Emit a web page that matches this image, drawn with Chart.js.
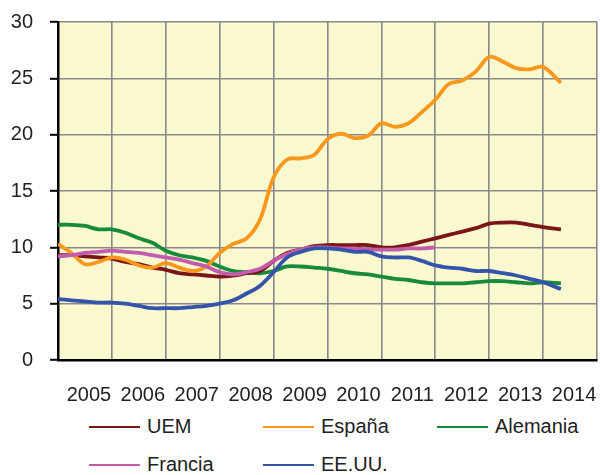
<!DOCTYPE html>
<html>
<head>
<meta charset="utf-8">
<script src="https://cdn.jsdelivr.net/npm/chart.js@4"></script>
<style>
  body { margin: 0; background: #fff; font-family: "Liberation Sans", Arial, sans-serif; }
  #wrap { position: relative; width: 600px; height: 475px; overflow: hidden; }
  #box { position: absolute; left: 0; top: 0; width: 600px; height: 410px; }
  .leg { position: absolute; display: flex; align-items: center; font-size: 20px; color: #222; white-space: nowrap; }
  .leg span.ln { display: inline-block; width: 51px; height: 2px; margin-right: 7px; }
</style>
</head>
<body>
<div id="wrap">
  <div id="box"><canvas id="paro"></canvas></div>
  <div id="legend"></div>
</div>
<script>
// trimestres (año decimal)
const periodos = [
  2005, 2005.25, 2005.5, 2005.75, 2006, 2006.25, 2006.5, 2006.75,
  2007, 2007.25, 2007.5, 2007.75, 2008, 2008.25, 2008.5, 2008.75,
  2009, 2009.25, 2009.5, 2009.75, 2010, 2010.25, 2010.5, 2010.75,
  2011, 2011.25, 2011.5, 2011.75, 2012, 2012.25, 2012.5, 2012.75,
  2013, 2013.25, 2013.5, 2013.75, 2014, 2014.33
];
const anios = ['2005', '2006', '2007', '2008', '2009', '2010', '2011', '2012', '2013', '2014'];

const uem = [9.3, 9.3, 9.2, 9.1, 9.0, 8.7, 8.5, 8.2, 8.0, 7.7, 7.6, 7.5, 7.4, 7.5, 7.7, 7.9,
  8.8, 9.5, 9.8, 10.1, 10.2, 10.2, 10.2, 10.2, 10.0, 10.0, 10.2, 10.5, 10.8, 11.1, 11.4, 11.7,
  12.1, 12.2, 12.2, 12.0, 11.8, 11.6];
const espana = [10.3, 9.5, 8.5, 8.7, 9.1, 8.9, 8.4, 8.2, 8.6, 8.2, 7.9, 8.3, 9.5, 10.3, 10.8, 12.5,
  16.2, 17.8, 17.9, 18.2, 19.6, 20.1, 19.7, 19.9, 21.0, 20.7, 21.0, 22.0, 23.1, 24.5, 24.8, 25.6,
  26.9, 26.5, 25.9, 25.8, 26.0, 24.6];
const alemania = [12.0, 12.0, 11.9, 11.6, 11.6, 11.3, 10.8, 10.4, 9.7, 9.3, 9.1, 8.8, 8.3, 7.9, 7.8, 7.7,
  7.9, 8.3, 8.3, 8.2, 8.1, 7.9, 7.7, 7.6, 7.4, 7.2, 7.1, 6.9, 6.8, 6.8, 6.8, 6.9,
  7.0, 7.0, 6.9, 6.8, 6.9, 6.8];
const francia = [9.2, 9.3, 9.5, 9.6, 9.7, 9.6, 9.5, 9.3, 9.1, 8.9, 8.6, 8.3, 7.8, 7.6, 7.8, 8.1,
  8.8, 9.4, 9.8, 10.0, 10.0, 9.9, 9.9, 9.8, 9.8, 9.8, 9.9, 9.9, 10.0];
const eeuu = [5.4, 5.3, 5.2, 5.1, 5.1, 5.0, 4.8, 4.6, 4.6, 4.6, 4.7, 4.8, 5.0, 5.3, 5.9, 6.6,
  7.8, 9.1, 9.6, 9.9, 9.9, 9.8, 9.6, 9.6, 9.2, 9.1, 9.1, 8.8, 8.4, 8.2, 8.1, 7.9,
  7.9, 7.7, 7.5, 7.2, 6.9, 6.3];

const series = [
  { label: 'UEM', values: uem, color: '#7a1518', order: 4 },
  { label: 'España', values: espana, color: '#f7981d', order: 3 },
  { label: 'Alemania', values: alemania, color: '#178a3c', order: 5 },
  { label: 'Francia', values: francia, color: '#c35cad', order: 2 },
  { label: 'EE.UU.', values: eeuu, color: '#3354a8', order: 1 }
];

const GRID = '#898989';

const plotBg = {
  id: 'plotBg',
  beforeDraw(chart) {
    const { ctx, chartArea: a } = chart;
    ctx.save();
    ctx.fillStyle = '#faf8cf';
    ctx.fillRect(a.left, a.top, a.right - a.left, a.bottom - a.top);
    ctx.restore();
  }
};

const noPad = scale => {
  scale.paddingLeft = 0;
  scale.paddingRight = 0;
  scale.paddingTop = 0;
  scale.paddingBottom = 0;
};

const chart = new Chart(document.getElementById('paro'), {
  type: 'line',
  data: {
    datasets: series.map(s => ({
      label: s.label,
      data: s.values.map((v, i) => ({ x: periodos[i], y: v })),
      borderColor: s.color,
      backgroundColor: s.color,
      borderWidth: 3.8,
      tension: 0.35,
      pointRadius: 0,
      fill: false,
      order: s.order
    }))
  },
  options: {
    responsive: true,
    maintainAspectRatio: false,
    animation: false,
    layout: { padding: { top: 22, right: 3, left: 0, bottom: 0 } },
    scales: {
      x: {
        type: 'linear',
        min: 2005,
        max: 2015,
        afterBuildTicks: scale => {
          const t = [];
          for (let i = 0; i <= anios.length * 2; i++) t.push({ value: 2005 + i / 2 });
          scale.ticks = t;
        },
        afterFit: scale => { scale.height = 50; noPad(scale); },
        grid: {
          color: ctx => (ctx.tick && ctx.tick.value % 1 === 0) ? GRID : 'rgba(0,0,0,0)',
          lineWidth: 1.6,
          drawTicks: false
        },
        border: { color: '#000', width: 2.5 },
        ticks: {
          autoSkip: false,
          maxRotation: 0,
          padding: 23,
          labelOffset: 4,
          color: '#222',
          font: { family: '"Liberation Sans", Arial, sans-serif', size: 20 },
          callback: v => (v % 1 !== 0) ? anios[Math.floor(v) - 2005] : ''
        }
      },
      y: {
        min: 0,
        max: 30,
        afterFit: scale => { scale.width = 58; noPad(scale); },
        grid: {
          color: GRID,
          lineWidth: 1.6,
          tickColor: '#000',
          tickLength: 8,
          tickWidth: 2
        },
        border: { color: '#000', width: 2.5 },
        ticks: {
          stepSize: 5,
          padding: 17,
          color: '#222',
          font: { family: '"Liberation Sans", Arial, sans-serif', size: 20 }
        }
      }
    },
    plugins: {
      legend: { display: false },
      tooltip: { enabled: false }
    }
  },
  plugins: [plotBg]
});

// leyenda en 3 columnas
const legendEl = document.getElementById('legend');
series.forEach((s, i) => {
  const d = document.createElement('div');
  d.className = 'leg';
  d.style.left = (89 + (i % 3) * 174) + 'px';
  d.style.top = (415 + Math.floor(i / 3) * 38) + 'px';
  d.innerHTML = '<span class="ln" style="background:' + s.color + '"></span>' + s.label;
  legendEl.appendChild(d);
});
</script>
</body>
</html>
